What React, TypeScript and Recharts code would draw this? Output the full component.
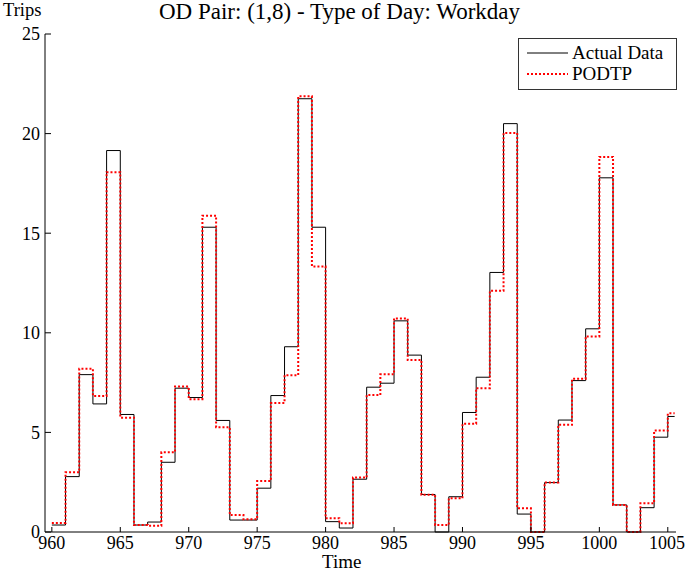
import { LineChart, Line, XAxis, YAxis } from "recharts";

const times = [
    960, 961, 962, 963, 964, 965, 966, 967, 968, 969,
    970, 971, 972, 973, 974, 975, 976, 977, 978, 979,
    980, 981, 982, 983, 984, 985, 986, 987, 988, 989,
    990, 991, 992, 993, 994, 995, 996, 997, 998, 999,
    1000, 1001, 1002, 1003, 1004, 1005, 1005.5
]

const actual = [
    0.35, 2.78, 7.9, 6.43, 19.15, 5.9, 0.35, 0.5, 3.5, 7.22,
    6.75, 15.3, 5.6, 0.6, 0.6, 2.2, 6.85, 9.3, 21.75, 15.3,
    0.52, 0.2, 2.65, 7.27, 7.47, 10.6, 8.88, 1.88, 0, 1.77,
    6.0, 7.77, 13.03, 20.5, 0.9, 0, 2.48, 5.62, 7.6, 10.2,
    17.78, 1.36, 0, 1.22, 4.76, 5.8, 5.8
]

const podtp = [
    0.45, 3.0, 8.2, 6.83, 18.06, 5.74, 0.35, 0.32, 4.0, 7.3,
    6.67, 15.88, 5.26, 0.85, 0.64, 2.56, 6.47, 7.87, 21.87, 13.33,
    0.69, 0.44, 2.73, 6.88, 7.92, 10.72, 8.64, 1.87, 0.35, 1.69,
    5.43, 7.22, 12.11, 20.03, 1.19, 0, 2.48, 5.38, 7.69, 9.82,
    18.83, 1.36, 0, 1.44, 5.09, 5.96, 5.96
]

const xTicks = [960, 965, 970, 975, 980, 985, 990, 995, 1000, 1005]
const yTicks = [0, 5, 10, 15, 20, 25]

const data = times.map((t, i) => ({ t, actual: actual[i], podtp: podtp[i] }))

const FONT = "'Liberation Serif', 'Times New Roman', serif"

const LegendBox = () => (
    <div style={{
        position: "absolute",
        left: 518,
        top: 38,
        border: "1px solid #333",
        background: "#fff",
        width: 159,
        height: 52,
        fontSize: 19,
        color: "#000",
        boxSizing: "border-box",
        padding: "3px 0 0 8px",
        lineHeight: "21px",
        zIndex: 2
    }}>
        <div style={{ display: "flex", alignItems: "center" }}>
            <svg width={41} height={10}><line x1={0} y1={5} x2={41} y2={5} stroke="#000" strokeWidth={1} /></svg>
            <span style={{ marginLeft: 4 }}>Actual Data</span>
        </div>
        <div style={{ display: "flex", alignItems: "center" }}>
            <svg width={41} height={10}><line x1={0} y1={5} x2={41} y2={5} stroke="#ff0000" strokeWidth={2} strokeDasharray="2 2" /></svg>
            <span style={{ marginLeft: 4 }}>PODTP</span>
        </div>
    </div>
)

const App = () => {
    return (
        <div style={{ position: "absolute", left: 0, top: 0, width: 685, height: 572, background: "#fff", fontFamily: FONT }}>
            <div style={{ position: "absolute", left: 3, top: 0, fontSize: 18.5, lineHeight: "21px" }}>Trips</div>
            <div style={{ position: "absolute", left: 159, top: 0, fontSize: 23, lineHeight: "24px" }}>OD Pair: (1,8) - Type of Day: Workday</div>
            <div style={{ position: "absolute", left: 322, top: 551, fontSize: 19, lineHeight: "21px" }}>Time</div>
            <LegendBox />
            <LineChart
                width={685}
                height={572}
                data={data}
                margin={{ top: 34, right: 9, left: 0, bottom: 0 }}
            >
                <XAxis
                    dataKey="t"
                    type="number"
                    domain={[959.5, 1005.6]}
                    ticks={xTicks}
                    allowDataOverflow
                    height={40}
                    stroke="#000"
                    tickSize={-5}
                    tickMargin={9}
                    tick={{ fill: "#000", fontSize: 18, fontFamily: FONT }}
                />
                <YAxis
                    type="number"
                    domain={[0, 25]}
                    ticks={yTicks}
                    width={45}
                    stroke="#000"
                    tickSize={-6}
                    tickMargin={11}
                    tick={{ fill: "#000", fontSize: 18, fontFamily: FONT }}
                />
                <Line
                    type="stepAfter"
                    dataKey="actual"
                    stroke="#000"
                    strokeWidth={1}
                    dot={false}
                    isAnimationActive={false}
                />
                <Line
                    type="stepAfter"
                    dataKey="podtp"
                    stroke="#ff0000"
                    strokeWidth={2}
                    strokeDasharray="2 2"
                    dot={false}
                    isAnimationActive={false}
                />
            </LineChart>
        </div>
    )
}

export default App
